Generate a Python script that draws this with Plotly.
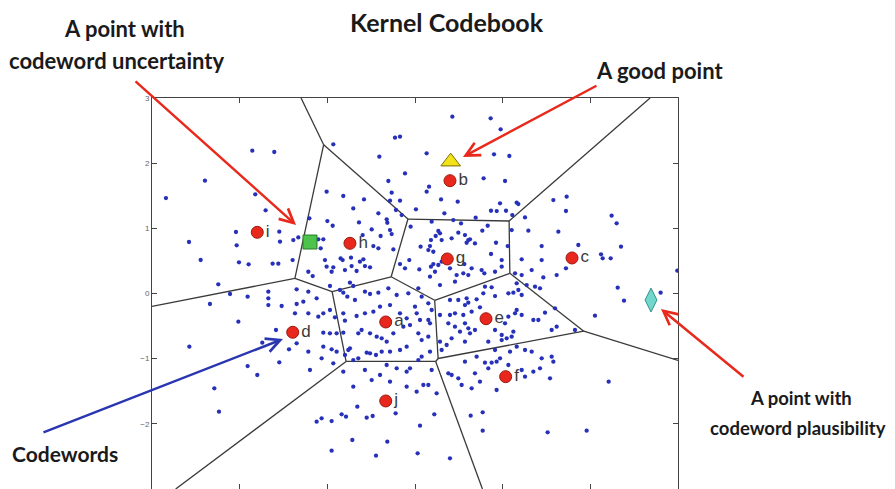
import numpy as np
import plotly.graph_objects as go

# ---------------- data ----------------
codeword_labels = ["a", "b", "c", "d", "e", "f", "g", "h", "i", "j"]
codeword_x = [-0.334, 0.399, 1.791, -1.395, 0.810, 1.034, 0.368, -0.742, -1.799, -0.334]
codeword_y = [-0.437, 1.731, 0.545, -0.595, -0.387, -1.276, 0.530, 0.770, 0.939, -1.649]

uncertain_x, uncertain_y = [-1.198], [0.790]
good_x, good_y = [0.407], [2.023]
plausible_x, plausible_y = [2.692], [-0.100]

feature_points = [
    # upper-middle
    (-0.114, 1.843), (-0.304, 1.726), (-1.008, 1.562), (-0.818, 1.496), (-0.582, 1.444), (-0.266, 1.547),
    (-0.704, 1.306), (-0.418, 1.230), (-0.285, 1.424), (-0.171, 1.424), (-0.217, 1.281), (0.011, 1.291),
    (-1.205, 1.153), (-1.000, 1.112), (-0.939, 1.040), (-0.639, 1.091), (-0.323, 1.138), (-0.316, 1.086),
    (-0.152, 1.204), (-0.050, 1.025), (-0.285, 0.974), (-0.494, 0.984), (-0.392, 0.882), (-0.266, 0.912),
    (-0.597, 0.897), (-1.331, 0.861), (-1.388, 0.820), (-1.103, 0.831), (-1.046, 0.831), (-1.076, 0.693),
    (-0.475, 0.728), (-0.418, 0.693), (-0.247, 0.677), (-1.396, 0.513), (-1.217, 0.334), (-1.167, 0.268),
    (-1.027, 0.513), (-1.008, 0.411), (-0.932, 0.401), (-0.951, 0.334), (-0.848, 0.539), (-0.825, 0.513),
    (-0.799, 0.360), (-0.730, 0.549), (-0.723, 0.421), (-0.628, 0.488), (-0.589, 0.524), (-0.666, 0.345),
    (-0.571, 0.421), (-0.513, 0.401), (-0.171, 0.452), (-0.114, 0.386), (0.049, 0.370), (0.064, 0.718),
    (-0.065, 0.513),
    (0.160, 1.639), (0.133, 1.562), (0.297, 1.444), (0.487, 1.409), (0.783, 1.767), (1.027, 1.726),
    (0.970, 1.383), (1.160, 1.393), (1.179, 1.373), (0.867, 1.270), (0.932, 1.265), (1.038, 1.270),
    (1.110, 1.204), (1.255, 1.168), (1.578, 1.434), (0.692, 1.163), (0.335, 1.230), (0.437, 1.127),
    (0.525, 1.076), (0.190, 1.102), (0.266, 0.959), (0.285, 0.923), (0.236, 0.882), (0.304, 0.820),
    (0.182, 0.820), (0.171, 0.728), (0.152, 0.667), (0.209, 0.641), (0.418, 0.846), (0.494, 0.933),
    (0.570, 0.897), (0.608, 0.820), (0.589, 0.779), (0.627, 0.831), (0.684, 0.769), (0.768, 0.964),
    (0.829, 1.040), (0.924, 0.779), (1.103, 0.974), (1.057, 0.728), (0.867, 0.606), (0.989, 0.513),
    (1.217, 0.524), (1.445, 0.513), (1.293, 0.964), (1.445, 0.728), (1.635, 0.948), (1.616, 0.283),
    (1.464, 0.247), (1.217, 0.283), (1.331, 0.360), (1.141, 0.309), (0.989, 0.411), (0.913, 0.334),
    (0.760, 0.360), (0.791, 0.309), (0.646, 0.386), (0.608, 0.283), (0.563, 0.452), (0.551, 0.309),
    (0.475, 0.283), (0.399, 0.386), (0.266, 0.437), (0.209, 0.452), (0.182, 0.411), (0.228, 0.334),
    (0.171, 0.258), (0.304, 0.488),
    # lower-middle
    (-1.350, 0.064), (-1.217, 0.028), (-1.122, -0.074), (-0.970, 0.115), (-0.856, 0.054), (-0.742, 0.166),
    (-0.704, 0.115), (-0.818, 0.013), (-0.772, -0.049), (-0.685, -0.100), (-0.571, 0.028), (-0.513, -0.008),
    (-0.418, 0.013), (-0.304, 0.079), (-0.209, -0.023), (-0.076, 0.002), (0.038, 0.079), (0.076, -0.049),
    (-1.350, -0.161), (-1.274, -0.125), (-1.369, -0.304), (-1.217, -0.304), (-1.103, -0.356), (-1.046, -0.304),
    (-0.970, -0.253), (-0.913, -0.366), (-0.818, -0.304), (-0.799, -0.417), (-0.666, -0.345), (-0.571, -0.304),
    (-0.475, -0.279), (-0.399, -0.202), (-0.285, -0.177), (-0.171, -0.304), (-0.095, -0.381), (0.000, -0.202),
    (0.019, -0.304), (0.057, -0.407), (-0.647, -0.611), (-0.609, -0.560), (-0.513, -0.611), (-0.437, -0.663),
    (-0.380, -0.688), (-0.323, -0.739), (-0.247, -0.611), (-0.133, -0.509), (-0.057, -0.484), (0.038, -0.611),
    (0.076, -0.714), (-0.095, -0.816), (-0.171, -0.867), (-0.285, -0.893), (-0.380, -0.893), (-0.445, -0.944),
    (-0.513, -0.918), (-0.551, -0.908), (-0.647, -0.995), (-0.704, -1.021), (-0.761, -0.867), (-0.742, -0.842),
    (-0.799, -0.944), (-0.894, -0.893), (-0.951, -0.857), (-1.046, -0.601), (-0.970, -0.611), (-0.894, -0.611),
    (-0.818, -0.601), (-1.046, -0.816), (-1.217, -0.893), (-1.350, -0.765), (-1.065, -0.995), (-0.932, -1.072),
    (-1.198, -1.174), (-0.818, -1.200), (-0.571, -1.174), (-0.494, -1.328), (-0.399, -1.251), (-0.323, -1.097),
    (-0.209, -1.148), (-0.095, -1.200), (-0.057, -1.148), (0.038, -1.021), (0.076, -0.969), (-0.704, -1.430),
    (-0.095, -1.430), (0.019, -1.507), (0.095, -1.404), (-0.285, -1.353),
    (0.285, 0.130), (0.456, 0.181), (0.798, 0.105), (0.874, 0.094), (0.779, 0.002), (0.589, -0.074),
    (0.703, -0.090), (0.913, -0.039), (1.065, 0.002), (1.122, 0.013), (1.179, 0.054), (1.217, -0.023),
    (1.160, 0.156), (1.274, 0.130), (1.369, 0.105), (1.426, 0.079), (0.152, -0.151), (0.190, -0.253),
    (0.399, -0.100), (0.494, -0.100), (0.570, -0.177), (0.608, -0.141), (0.646, -0.279), (0.741, -0.212),
    (0.551, -0.330), (0.456, -0.304), (0.399, -0.330), (0.152, -0.407), (0.171, -0.458), (0.285, -0.330),
    (0.380, -0.458), (0.456, -0.509), (0.513, -0.586), (0.570, -0.458), (0.608, -0.535), (0.627, -0.611),
    (0.684, -0.560), (0.570, -0.739), (0.418, -0.688), (0.361, -0.790), (0.285, -0.739), (0.304, -0.867),
    (0.152, -0.663), (0.171, -0.893), (0.913, -0.560), (0.836, -0.739), (0.989, -0.637), (0.989, -0.714),
    (1.046, -0.688), (1.103, -0.663), (1.122, -0.586), (1.027, -0.458), (1.065, -0.356), (1.141, -0.304),
    (1.160, -0.253), (1.217, -0.330), (1.407, -0.407), (1.483, -0.294), (1.597, -0.228), (1.616, -0.509),
    (1.559, -0.560), (1.350, -0.407), (0.913, -0.867), (1.084, -0.893), (1.160, -0.816), (1.255, -0.867),
    (1.331, -0.893), (1.445, -0.995), (1.559, -0.969), (1.578, -1.046), (0.798, -1.062), (0.874, -1.062),
    (0.931, -1.046), (0.970, -0.995), (1.065, -1.097), (0.703, -0.969), (0.570, -1.046), (0.418, -1.251),
    (0.380, -1.225), (0.494, -1.302), (0.532, -1.404), (0.684, -1.225), (0.741, -1.353), (0.836, -1.148),
    (0.931, -1.481), (0.646, -1.455), (0.190, -1.174), (0.152, -1.404), (0.247, -1.532), (1.350, -1.200),
    (1.255, -1.276), (1.217, -1.174), (1.426, -1.148), (1.540, -1.302),
    # outer regions
    (-1.856, 2.192), (-1.605, 2.171), (-2.396, 1.731), (-2.841, 1.465), (-1.822, 1.522), (-1.704, 1.276),
    (-2.042, 0.944), (-2.034, 0.739), (-2.578, 0.790), (-2.445, 0.514), (-2.008, 0.478),
    (-1.898, 0.448), (-1.624, 0.458), (-1.559, 0.458), (-1.540, 0.795), (-1.548, 0.949), (-2.244, 0.141),
    (-0.228, 2.391), (-0.171, 2.407), (-0.932, 2.289), (-0.407, 2.100),
    (0.426, 2.714), (0.863, 2.688), (0.977, 2.519), (0.133, 2.151), (0.901, 2.135), (1.076, 2.110),
    (1.730, 1.486), (1.722, 1.266), (1.863, 0.744), (2.122, 0.601), (2.141, 0.540), (2.232, 0.540),
    (2.243, 1.194), (2.300, 1.077), (2.350, 0.719), (2.992, 0.350), (2.312, 0.090), (1.722, 0.386),
    (2.384, -0.110), (2.053, -0.340), (1.825, -0.560), (2.209, -1.353), (1.958, -2.105), (2.802, 0.013),
    (1.513, -2.131), (0.220, -1.854), (0.635, -1.875), (0.772, -1.824), (0.772, -2.105), (0.399, -2.530),
    (-2.110, -0.008), (-2.339, -0.161), (-1.909, -0.049), (-2.015, -0.432), (-1.673, 0.028), (-1.673, -0.074),
    (-1.673, -0.177), (-1.521, -0.192), (-1.586, -0.560), (-1.742, -0.755), (-1.909, -1.113), (-1.799, -1.251),
    (-2.574, -0.816), (-2.289, -1.455), (-2.236, -1.813), (-1.548, -1.056), (-1.437, -0.857), (-1.122, -1.967),
    (-1.065, -1.916), (-0.951, -1.957), (-0.837, -1.854), (-0.787, -1.890), (-0.715, -2.248), (-0.951, -2.412),
    (-0.445, -2.489), (-0.316, -2.274), (-0.221, -1.839), (-0.483, -1.880), (-0.551, -1.906), (-0.658, -1.737),
    (0.030, -2.453), (0.057, -2.028),
]
feature_x = [p[0] for p in feature_points]
feature_y = [p[1] for p in feature_points]

axis_range = [-3, 3]
tick_vals = [-3, -2, -1, 0, 1, 2, 3]

# ---------------- Voronoi cells (half-plane clipping in data space) ----------------
def clip_half_plane(poly, normal, c):
    out = []
    n = len(poly)
    for k in range(n):
        P, Q = poly[k], poly[(k + 1) % n]
        dp, dq = normal @ P - c, normal @ Q - c
        if dp <= 0:
            out.append(P)
        if dp * dq < 0:
            t = dp / (dp - dq)
            out.append(P + t * (Q - P))
    return out

sites = np.column_stack([codeword_x, codeword_y])
lo, hi = axis_range
box = [np.array([lo, lo]), np.array([hi, lo]), np.array([hi, hi]), np.array([lo, hi])]
seg_x, seg_y, seen = [], [], set()
eps = 1e-6
for i, s in enumerate(sites):
    poly = [p.copy() for p in box]
    for j, q in enumerate(sites):
        if i == j:
            continue
        normal = q - s
        c = normal @ ((s + q) / 2)
        poly = clip_half_plane(poly, normal, c)
    for k in range(len(poly)):
        P, Q = poly[k], poly[(k + 1) % len(poly)]
        on_border = False
        for d in (0, 1):
            for b in (lo, hi):
                if abs(P[d] - b) < eps and abs(Q[d] - b) < eps:
                    on_border = True
        if on_border or np.linalg.norm(P - Q) < eps:
            continue
        key = tuple(sorted([tuple(np.round(P, 5)), tuple(np.round(Q, 5))]))
        if key in seen:
            continue
        seen.add(key)
        seg_x += [P[0], Q[0], None]
        seg_y += [P[1], Q[1], None]

# ---------------- figure ----------------
fig = go.Figure()
fig.add_trace(go.Scatter(x=seg_x, y=seg_y, mode="lines",
                         line=dict(color="#3a3a3a", width=1.3), hoverinfo="skip"))
fig.add_trace(go.Scatter(x=feature_x, y=feature_y, mode="markers",
                         marker=dict(size=4.3, color="#2630b8")))
fig.add_trace(go.Scatter(x=codeword_x, y=codeword_y, mode="markers+text",
                         text=codeword_labels, textposition="middle right",
                         textfont=dict(family="Liberation Sans, Arial", size=17, color="#3a3a3a"),
                         marker=dict(size=12, color="#e8281c", line=dict(color="#a01810", width=1))))
fig.add_trace(go.Scatter(x=uncertain_x, y=uncertain_y, mode="markers",
                         marker=dict(symbol="square", size=14, color="#4cc34a",
                                     line=dict(color="#2a7a2a", width=1))))
fig.add_trace(go.Scatter(x=good_x, y=good_y, mode="markers",
                         marker=dict(symbol="triangle-up", size=17, color="#f2e21a",
                                     line=dict(color="#7a6e00", width=1))))
fig.add_trace(go.Scatter(x=plausible_x, y=plausible_y, mode="markers",
                         marker=dict(symbol="diamond-tall", size=17, color="#72d8ce",
                                     line=dict(color="#2f8f88", width=1))))

label_font = dict(family="Lato, Open Sans, sans-serif", size=19, color="#1a1a1a")
texts = [
    ("Kernel Codebook", 0.561, 1.1944, 25),
    ("A point with", -0.053, 1.1765, 22),
    ("codeword uncertainty", -0.0665, 1.097, 22),
    ("A good point", 0.964, 1.0716, 22),
    ("A point with", 1.234, 0.2327, 18.5),
    ("codeword plausibility", 1.228, 0.156, 18.5),
    ("Codewords", -0.1654, 0.092, 21),
]
annotations = []
for t, x, y, s in texts:
    annotations.append(dict(text="<b>%s</b>" % t, x=x, y=y, xref="paper", yref="paper",
                            xanchor="center", yanchor="middle", showarrow=False,
                            font=dict(label_font, size=s)))

arrows = [
    # (head_x, head_y, tail_x, tail_y, color)
    (-1.357, 1.051, -3.205, 3.276, "#e8291c"),
    (0.547, 2.095, 2.087, 3.200, "#e8291c"),
    (2.806, -0.238, 3.764, -1.296, "#e8291c"),
    (-1.506, -0.698, -4.255, -2.140, "#2a35b0"),
]
for hx, hy, tx, ty, col in arrows:
    annotations.append(dict(x=hx, y=hy, ax=tx, ay=ty, xref="x", yref="y", axref="x", ayref="y",
                            text="", showarrow=True, arrowhead=5, arrowsize=1.1,
                            arrowwidth=2.5, arrowcolor=col))

axis_common = dict(range=axis_range, tickvals=tick_vals, ticks="inside", ticklen=5,
                   tickcolor="#444", showline=True, linecolor="#444", linewidth=1,
                   mirror="ticks", showgrid=False, zeroline=False)
fig.update_xaxes(**axis_common, showticklabels=False)
fig.update_yaxes(**axis_common, showticklabels=True,
                 tickfont=dict(family="Liberation Sans, Arial", size=8, color="#666"))

# the page body has an 8px default margin, so the figure is 8px smaller on each axis
fig.update_layout(
    width=887, height=481,
    margin=dict(l=144, r=217, t=90, b=0),
    plot_bgcolor="white", paper_bgcolor="white",
    showlegend=False,
    annotations=annotations,
)

fig.write_html("out.html")
